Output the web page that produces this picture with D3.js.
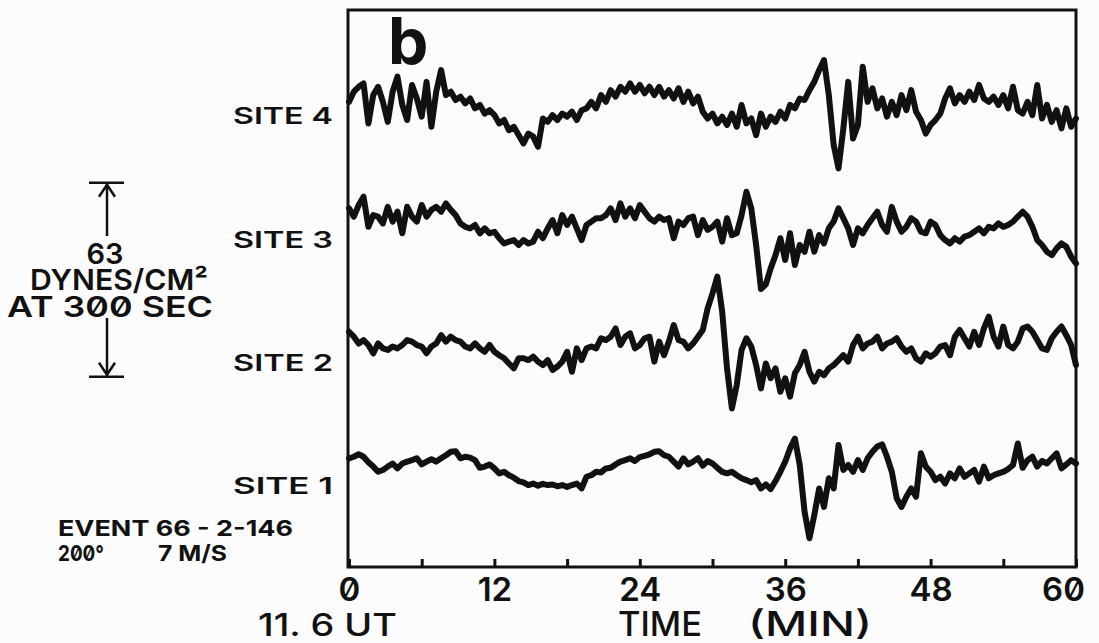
<!DOCTYPE html>
<html>
<head>
<meta charset="utf-8">
<script src="https://cdn.jsdelivr.net/npm/d3@7"></script>
<style>
  html, body { margin: 0; padding: 0; background: #fcfcfc; }
  svg text { font-family: Inter, "DejaVu Sans", sans-serif; font-feature-settings: "zero" 1; fill: #111; }
</style>
</head>
<body>
<svg id="chart" width="1099" height="643"></svg>
<script>
// Microbarograph pressure traces, event 66-2-146, starting 11.6 UT.
// One sample every 0.4 min; values are pressure deviations in dynes/cm².
const sampleStep = 0.4;

const site1 = [
  6.0,6.5,7.3,6.5,4.7,3.3,1.6,2.2,3.3,4.3,
  2.7,4.3,4.9,5.4,6.0,4.0,4.9,5.7,4.9,6.0,
  7.0,8.1,8.3,6.0,6.5,6.2,5.4,2.9,3.3,4.0,
  2.7,1.1,1.6,0.5,-0.3,-1.4,-1.8,-2.7,-2.2,-2.9,
  -2.3,-2.7,-2.5,-3.1,-2.7,-3.3,-2.7,-2.2,-3.8,0.0,
  0.5,1.6,1.4,2.7,2.9,4.0,4.9,5.4,6.0,5.1,
  6.4,6.8,7.3,8.1,8.3,7.0,6.5,4.9,3.3,6.0,
  4.0,4.9,6.0,3.6,5.1,4.3,2.9,1.6,1.1,1.6,
  0.5,-0.5,-1.1,-1.8,-1.1,-3.8,-2.5,-4.0,-1.4,1.6,
  4.9,9.2,12.4,3.8,-11.4,-20.0,-12.5,-3.8,-9.8,-0.5,
  -3.8,10.3,2.2,3.8,1.6,5.4,2.2,6.0,8.1,9.8,
  10.5,6.5,1.6,-7.0,-9.8,-6.5,-3.8,-6.5,7.6,3.3,
  1.6,-1.1,0.0,-2.2,1.1,-0.5,2.7,0.0,1.1,2.2,
  -1.6,3.3,-0.5,0.5,1.1,1.6,2.5,3.8,10.8,2.9,
  5.4,6.5,3.3,5.1,4.3,6.0,7.6,2.7,4.0,5.4,
  4.3
];

const site2 = [
  7.1,5.5,3.3,4.4,2.8,0.1,3.3,1.7,1.2,2.3,
  1.7,2.8,4.4,3.9,2.8,2.3,0.1,2.3,3.3,6.0,
  3.9,5.5,4.4,3.9,2.3,1.7,3.3,1.7,0.6,2.8,
  0.6,-0.5,-1.5,-3.2,-4.8,-1.5,-1.5,-2.1,-1.0,-2.6,
  -3.7,-2.1,-5.3,-4.2,-2.6,0.6,-5.9,1.7,-2.1,1.7,
  2.3,1.7,5.0,4.4,5.5,8.2,2.8,5.5,6.6,1.7,
  2.8,5.0,5.5,-2.6,3.9,-0.5,3.9,9.3,4.4,3.9,
  1.7,3.3,5.5,7.7,14.7,19.6,25.0,13.6,-4.8,-17.8,
  -10.2,1.2,5.0,2.3,-3.7,-11.3,-3.2,-8.0,-4.8,-12.4,
  -8.0,-14.0,-6.4,-3.7,0.6,-5.9,-9.1,-5.9,-7.0,-4.8,
  -3.7,-2.1,-0.5,-2.6,2.8,5.5,1.7,3.3,3.9,5.5,
  1.7,3.3,3.9,5.0,2.3,0.6,1.7,-1.5,-2.6,0.1,
  -1.0,0.1,2.3,2.8,-0.5,5.5,7.7,5.0,2.3,7.1,
  2.8,8.2,12.0,5.5,2.3,8.8,2.8,1.7,3.9,8.2,
  8.8,7.1,4.4,1.7,1.2,5.0,7.1,8.8,6.0,2.8,
  -3.7
];

const site3 = [
  7.2,4.5,8.3,11.0,1.2,5.0,4.5,2.3,7.7,2.9,
  6.1,-0.9,7.7,4.5,2.9,8.3,4.5,6.7,7.7,6.1,
  8.8,6.7,5.0,2.3,1.2,0.7,1.8,-0.9,0.7,-0.9,
  -0.4,-2.5,-4.2,-3.6,-3.1,-4.7,-3.1,-4.2,-3.6,-0.4,
  -2.5,0.7,3.4,-0.9,5.0,1.8,4.5,0.7,-3.1,1.8,
  2.9,4.0,4.0,5.0,7.2,3.4,8.8,4.5,7.2,4.0,
  8.3,6.1,4.0,2.9,4.5,3.4,4.0,-2.5,2.9,1.8,
  4.0,4.5,-1.5,3.4,0.2,1.2,2.9,-3.6,4.0,-1.5,
  -0.9,5.0,12.6,7.2,-4.7,-19.0,-17.5,-12.3,-8.0,-2.5,
  -9.6,-0.9,-11.2,-4.7,-6.9,-0.4,-6.9,-1.5,-4.2,0.7,
  2.9,7.2,4.0,0.7,-4.7,0.7,-0.9,1.8,4.0,6.1,
  1.8,-0.4,7.7,2.9,-0.4,1.2,4.0,2.9,-0.4,-0.9,
  2.9,1.8,-1.5,-3.1,-4.2,-2.5,-3.6,-2.0,-1.5,-0.4,
  0.7,-0.9,1.2,0.7,2.3,1.2,1.8,2.9,4.5,6.1,
  4.5,1.2,-3.1,-4.7,-6.9,-8.0,-5.8,-4.2,-5.3,-8.5,
  -10.7
];

const site4 = [
  1.8,5.1,6.7,7.8,-5.2,4.0,6.7,1.8,-4.7,5.1,
  10.0,0.8,-4.1,7.3,2.9,-3.0,8.3,-6.3,5.1,12.1,
  4.0,5.1,2.4,3.5,1.3,2.9,-0.3,0.8,-2.0,-0.9,
  -2.5,-5.2,-4.1,-7.4,-6.3,-9.0,-11.7,-8.5,-9.5,-12.8,
  -3.6,-4.7,-2.5,-4.1,-2.0,-3.0,-1.4,-4.1,-0.9,-0.3,
  1.8,-0.3,4.0,1.8,5.6,3.5,6.7,5.1,7.8,5.1,
  7.3,4.6,6.7,4.0,6.7,3.5,5.6,2.9,6.2,1.8,
  5.1,1.3,3.5,-1.4,-3.6,-2.0,-5.2,-3.0,-5.7,-2.0,
  -6.3,0.8,-5.2,-3.6,-9.0,-2.0,-6.3,-3.0,-4.7,-1.4,
  -3.6,0.8,-0.3,2.9,2.4,5.6,8.3,12.1,15.4,4.0,
  -12.2,-19.8,-6.8,8.3,-10.1,-5.7,13.2,1.8,6.2,-0.3,
  2.9,-3.0,1.8,-2.5,4.0,-0.9,5.6,-1.4,-4.1,-8.5,
  -5.7,-4.1,-2.0,2.9,6.2,1.3,4.0,1.8,5.1,2.4,
  7.3,2.9,1.8,3.5,0.8,4.0,-0.3,6.7,-0.9,-2.0,
  1.8,-2.5,7.3,-3.6,0.8,-4.7,-0.9,-6.8,-0.3,-6.3,
  -3.6
];

const siteNames = ["SITE 1", "SITE 2", "SITE 3", "SITE 4"];
const siteTraces = [site1, site2, site3, site4];
const siteOffsets = [29, 69, 109, 149];        // stacking offsets, dynes/cm²
const majorTicks = [0, 12, 24, 36, 48, 60];     // labelled minutes
const minorStep = 6;                             // tick spacing, minutes
const scaleBarValue = 63;                        // dynes/cm² at 300 s
const scaleBarBase = 61.5;

const ink = "#111";
const svg = d3.select("#chart");
const x = d3.scaleLinear().domain([0, 60]).range([349, 1076]);
const y = d3.scaleLinear().domain([0, 180]).range([566, 12]);

// frame
svg.append("rect")
  .attr("x", x(0) - 1).attr("y", 10)
  .attr("width", x(60) - x(0) + 1).attr("height", y(0) + 1 - 10)
  .attr("fill", "none").attr("stroke", ink).attr("stroke-width", 3);

// bottom axis: inward ticks every 6 minutes, labels every 12
const axis = d3.axisBottom(x)
  .tickValues(d3.range(0, 61, minorStep))
  .tickSizeInner(-8).tickSizeOuter(0).tickPadding(11)
  .tickFormat(d => majorTicks.includes(d) ? d : "");
const gAxis = svg.append("g").attr("transform", `translate(0,${y(0) + 1})`).call(axis);
gAxis.select(".domain").remove();
gAxis.selectAll(".tick line").attr("stroke", ink).attr("stroke-width", 3);
gAxis.selectAll(".tick text")
  .attr("font-size", 33).attr("font-weight", 600).attr("fill", ink)
  .attr("font-family", "Inter, 'DejaVu Sans', sans-serif")
  .attr("dx", d => d === 60 ? -13 : 0);

// traces
const line = d3.line()
  .x((d, i) => x(i * sampleStep))
  .y(d => d);
siteTraces.forEach((trace, k) => {
  svg.append("path")
    .datum(trace.map(v => y(v + siteOffsets[k])))
    .attr("d", line)
    .attr("fill", "none").attr("stroke", ink)
    .attr("stroke-width", 6).attr("stroke-linejoin", "round").attr("stroke-linecap", "round");
});

// site labels
svg.selectAll("text.site").data(siteNames).join("text")
  .attr("class", "site")
  .attr("x", 333).attr("y", (d, i) => y(siteOffsets[i]) + 17)
  .attr("text-anchor", "end")
  .attr("font-size", 23).attr("font-weight", 600)
  .attr("textLength", 100).attr("lengthAdjust", "spacingAndGlyphs")
  .text(d => d);

// panel letter
svg.append("text").attr("x", 388).attr("y", 64)
  .attr("font-family", "'Liberation Sans', Arial, sans-serif")
  .attr("font-size", 64).attr("font-weight", 700).text("b");

// pressure scale bar
const sTop = y(scaleBarBase + scaleBarValue), sBot = y(scaleBarBase);
const gS = svg.append("g").attr("stroke", ink).attr("stroke-width", 2.5).attr("fill", "none");
gS.append("line").attr("x1", 89).attr("x2", 124).attr("y1", sTop).attr("y2", sTop);
gS.append("line").attr("x1", 89).attr("x2", 124).attr("y1", sBot).attr("y2", sBot);
gS.append("line").attr("x1", 107).attr("x2", 107).attr("y1", sTop).attr("y2", 236);
gS.append("line").attr("x1", 107).attr("x2", 107).attr("y1", 318).attr("y2", sBot);
gS.append("polyline").attr("points", `99,${sTop + 14} 107,${sTop + 2} 115,${sTop + 14}`);
gS.append("polyline").attr("points", `99,${sBot - 14} 107,${sBot - 2} 115,${sBot - 14}`);

svg.append("text").attr("x", 105).attr("y", 264).attr("text-anchor", "middle")
  .attr("font-size", 29).attr("font-weight", 600).text(scaleBarValue);
svg.append("text").attr("x", 30).attr("y", 290)
  .attr("font-size", 29).attr("font-weight", 600)
  .attr("textLength", 178).attr("lengthAdjust", "spacingAndGlyphs").text("DYNES/CM²");
svg.append("text").attr("x", 7).attr("y", 317)
  .attr("font-size", 29).attr("font-weight", 600)
  .attr("textLength", 206).attr("lengthAdjust", "spacingAndGlyphs").text("AT 300 SEC");

// event annotation
svg.append("text").attr("x", 58).attr("y", 536)
  .attr("font-size", 22).attr("font-weight", 700)
  .attr("textLength", 235).attr("lengthAdjust", "spacingAndGlyphs").text("EVENT 66 - 2-146");
const ev = svg.append("text").attr("y", 561).attr("font-size", 22).attr("font-weight", 700);
ev.append("tspan").attr("x", 58).attr("textLength", 46).attr("lengthAdjust", "spacingAndGlyphs").text("200°");
ev.append("tspan").attr("x", 158).attr("textLength", 69).attr("lengthAdjust", "spacingAndGlyphs").text("7 M/S");

// axis titles
svg.append("text").attr("x", 258).attr("y", 636)
  .attr("font-size", 31).attr("font-weight", 500)
  .attr("textLength", 139).attr("lengthAdjust", "spacingAndGlyphs").text("11. 6 UT");
const tt = svg.append("text").attr("y", 636).attr("font-size", 34).attr("font-weight", 500);
tt.append("tspan").attr("x", 618).attr("textLength", 84).attr("lengthAdjust", "spacingAndGlyphs").text("TIME");
tt.append("tspan").attr("x", 748).attr("textLength", 124).attr("lengthAdjust", "spacingAndGlyphs").text("(MIN)");
</script>
</body>
</html>
